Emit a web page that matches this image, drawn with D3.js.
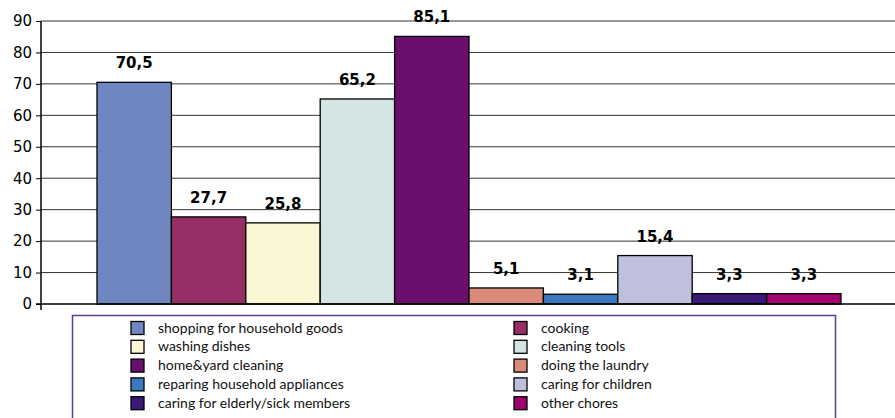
<!DOCTYPE html>
<html>
<head>
<meta charset="utf-8">
<script src="https://cdn.jsdelivr.net/npm/d3@7"></script>
<style>
  body { margin: 0; background: #fff; }
  svg { display: block; }
</style>
</head>
<body>
<div class="chart"></div>
<script>
// chores data
const categories = ['shopping for household goods', 'cooking', 'washing dishes', 'cleaning tools',
  'home&yard cleaning', 'doing the laundry', 'reparing household appliances', 'caring for children',
  'caring for elderly/sick members', 'other chores'];
const values = [70.5, 27.7, 25.8, 65.2, 85.1, 5.1, 3.1, 15.4, 3.3, 3.3];
const colors = ['#6f86c0', '#962f66', '#fbf6d3', '#d4e4e3', '#6a0f6e', '#d98a78', '#3a78c0', '#bfc0dd', '#3a1a78', '#a0006e'];
const yTicks = [0, 10, 20, 30, 40, 50, 60, 70, 80, 90];

const width = 895;
const height = 418;

const svg = d3.select('.chart')
    .append('svg')
    .attr('width', width)
    .attr('height', height);

const x = d3.scaleBand()
    .domain(categories)
    .range([97, 841])
    .padding(0);

const y = d3.scaleLinear()
    .domain([0, 90])
    .range([304, 21]);

// gridlines
svg.selectAll('line.grid')
    .data(yTicks.slice(1))
    .enter()
    .append('line')
    .attr('class', 'grid')
    .attr('x1', 41)
    .attr('x2', width)
    .attr('y1', d => y(d))
    .attr('y2', d => y(d))
    .attr('stroke', '#333')
    .attr('stroke-width', 1);

// y axis
const yAxis = svg.append('g')
    .attr('transform', 'translate(41,0)')
    .call(d3.axisLeft(y).tickValues(yTicks).tickSize(5).tickPadding(4));
yAxis.select('.domain').remove();
yAxis.selectAll('line').attr('stroke', '#000');
yAxis.selectAll('text')
    .attr('font-family', 'DejaVu Sans, sans-serif')
    .attr('font-size', 15)
    .attr('fill', '#000');

// bars
svg.selectAll('rect.bar')
    .data(values)
    .enter()
    .append('rect')
    .attr('class', 'bar')
    .attr('x', (d, i) => x(categories[i]))
    .attr('y', d => y(d))
    .attr('width', x.bandwidth())
    .attr('height', d => y(0) - y(d))
    .attr('fill', (d, i) => colors[i])
    .attr('stroke', '#000')
    .attr('stroke-width', 1.3);

// axis lines
svg.append('line')
    .attr('x1', 41).attr('x2', 41)
    .attr('y1', y(90)).attr('y2', y(0) + 6)
    .attr('stroke', '#000').attr('stroke-width', 1.5);
svg.append('line')
    .attr('x1', 36).attr('x2', width)
    .attr('y1', y(0)).attr('y2', y(0))
    .attr('stroke', '#000').attr('stroke-width', 1.5);

// value labels
svg.selectAll('text.val')
    .data(values)
    .enter()
    .append('text')
    .attr('class', 'val')
    .attr('x', (d, i) => x(categories[i]) + x.bandwidth() / 2)
    .attr('y', d => y(d) - 14)
    .attr('text-anchor', 'middle')
    .attr('font-family', 'DejaVu Sans, sans-serif')
    .attr('font-weight', 'bold')
    .attr('font-size', 15)
    .text(d => String(d).replace('.', ','));

// legend
svg.append('rect')
    .attr('x', 72.5)
    .attr('y', 315.5)
    .attr('width', 763)
    .attr('height', 110)
    .attr('fill', '#fff')
    .attr('stroke', '#5c3c94')
    .attr('stroke-width', 1.5);

const legend = svg.selectAll('g.leg')
    .data(categories)
    .enter()
    .append('g')
    .attr('class', 'leg')
    .attr('transform', (d, i) => `translate(${i % 2 ? 514 : 131},${328 + Math.floor(i / 2) * 18.8})`);

legend.append('rect')
    .attr('x', 0)
    .attr('y', -6.5)
    .attr('width', 13)
    .attr('height', 13)
    .attr('fill', (d, i) => colors[i])
    .attr('stroke', '#000')
    .attr('stroke-width', 1.3);

legend.append('text')
    .attr('x', 27)
    .attr('dy', 4.5)
    .attr('font-family', 'Lato, sans-serif')
    .attr('font-size', 14)
    .attr('fill', '#111')
    .text(d => d);
</script>
</body>
</html>
